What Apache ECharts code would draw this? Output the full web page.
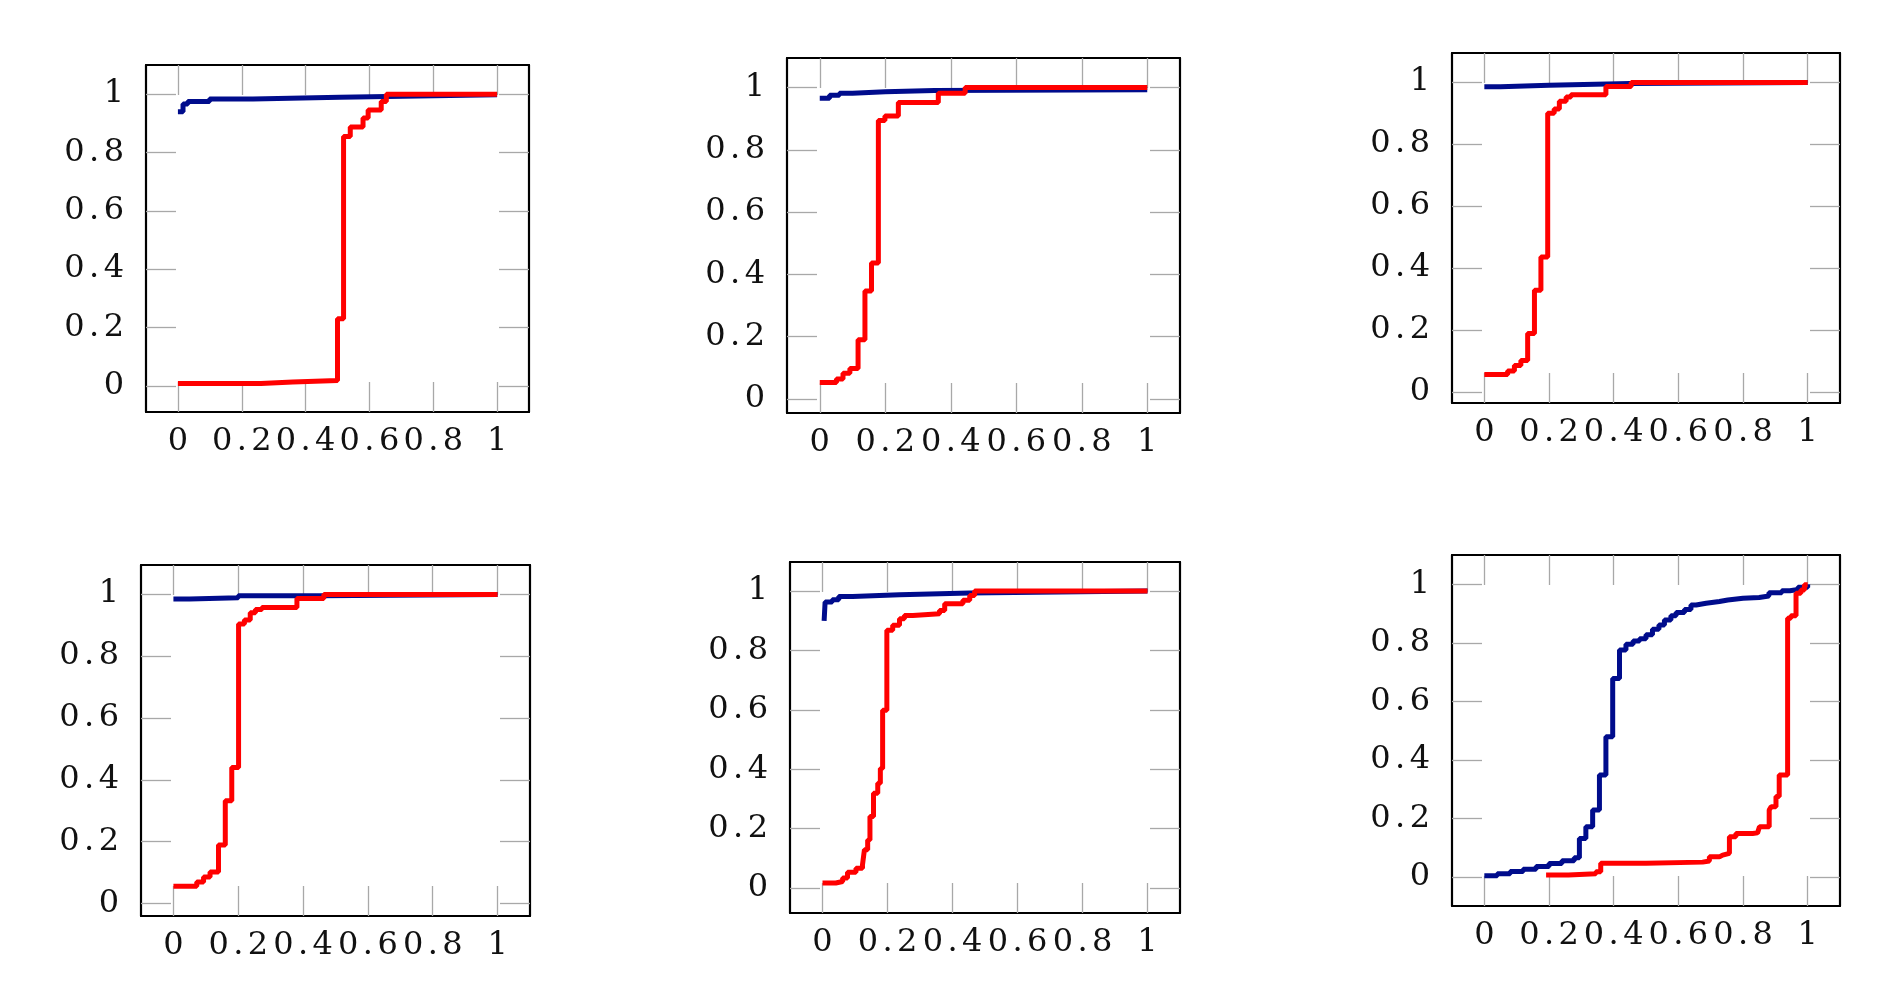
<!DOCTYPE html>
<html>
<head>
<meta charset="utf-8">
<script src="https://cdn.jsdelivr.net/npm/echarts@6/dist/echarts.min.js"></script>
<style>
html,body{margin:0;padding:0;background:#fff;}
#chart{width:1904px;height:1000px;}
</style>
</head>
<body>
<div id="chart"></div>
<script>
// ---- data (x, cumulative fraction) ----
const tickValues = [0, 0.2, 0.4, 0.6, 0.8, 1];

const p1Blue = [[0,0.94],[0.016,0.966],[0.031,0.975],[0.099,0.983],[0.235,0.989],[0.507,0.993],[0.705,0.998],[1,1]];
const p1Red  = [[0,0.008],[0.26,0.013],[0.36,0.018],[0.5,0.23],[0.519,0.855],[0.54,0.887],[0.58,0.918],[0.596,0.946],[0.637,0.975],[0.653,1.0],[1,1]];

const p2Blue = [[0,0.966],[0.03,0.975],[0.06,0.982],[0.1,0.987],[0.2,0.991],[0.35,0.993],[1,0.994]];
const p2Red  = [[0,0.053],[0.051,0.064],[0.071,0.083],[0.092,0.098],[0.117,0.19],[0.138,0.347],[0.158,0.437],[0.179,0.894],[0.199,0.909],[0.24,0.952],[0.362,0.982],[0.444,1.0],[1,1]];

const p3Blue = [[0,0.985],[0.05,0.99],[0.2,0.996],[0.45,0.999],[1,1]];
const p3Red  = [[0,0.057],[0.072,0.068],[0.093,0.086],[0.113,0.102],[0.134,0.189],[0.155,0.329],[0.175,0.436],[0.196,0.9],[0.216,0.913],[0.232,0.938],[0.253,0.952],[0.268,0.959],[0.376,0.986],[0.454,0.999],[1,1]];

const p4Blue = [[0,0.984],[0.05,0.988],[0.2,0.995],[0.45,0.999],[1,1]];
const p4Red  = [[0,0.056],[0.072,0.07],[0.093,0.086],[0.113,0.102],[0.139,0.189],[0.16,0.332],[0.18,0.44],[0.201,0.903],[0.219,0.916],[0.237,0.94],[0.253,0.95],[0.273,0.957],[0.381,0.986],[0.464,0.999],[1,1]];

const p5Blue = [[0.005,0.9],[0.008,0.963],[0.03,0.971],[0.05,0.982],[0.093,0.988],[0.237,0.994],[0.453,1.0],[1,1]];
const p5Red  = [[0,0.017],[0.041,0.022],[0.062,0.034],[0.077,0.053],[0.103,0.067],[0.123,0.078],[0.129,0.129],[0.139,0.162],[0.146,0.241],[0.157,0.319],[0.17,0.353],[0.178,0.403],[0.185,0.599],[0.198,0.868],[0.216,0.885],[0.237,0.907],[0.252,0.918],[0.278,0.924],[0.36,0.935],[0.376,0.957],[0.432,0.969],[0.453,0.985],[0.468,1.0],[1,1]];

const p6Blue = [[0,0.003],[0.04,0.01],[0.08,0.018],[0.12,0.026],[0.16,0.035],[0.2,0.045],[0.24,0.055],[0.278,0.065],[0.294,0.131],[0.314,0.171],[0.335,0.228],[0.356,0.348],[0.376,0.479],[0.397,0.678],[0.418,0.775],[0.438,0.795],[0.46,0.806],[0.48,0.814],[0.5,0.827],[0.52,0.846],[0.54,0.861],[0.557,0.878],[0.577,0.892],[0.593,0.903],[0.619,0.914],[0.639,0.929],[0.655,0.935],[0.686,0.941],[0.727,0.946],[0.753,0.952],[0.8,0.955],[0.85,0.96],[0.88,0.971],[0.92,0.978],[0.945,0.982],[0.97,0.99],[1,1]];
const p6Red  = [[0.191,0.006],[0.26,0.01],[0.345,0.017],[0.36,0.046],[0.5,0.05],[0.675,0.054],[0.696,0.068],[0.727,0.074],[0.737,0.08],[0.758,0.137],[0.778,0.148],[0.83,0.15],[0.845,0.154],[0.851,0.171],[0.881,0.228],[0.887,0.239],[0.902,0.274],[0.912,0.348],[0.938,0.884],[0.948,0.892],[0.964,0.969],[0.979,0.98],[0.99,0.998],[1,1]];

const blueSeries = [p1Blue, p2Blue, p3Blue, p4Blue, p5Blue, p6Blue];
const redSeries  = [p1Red, p2Red, p3Red, p4Red, p5Red, p6Red];

// axis limits (pgfplots-style enlarged limits)
const xMin = -0.1, xMax = 1.1;
const yMins = [-0.09, -0.045, -0.035, -0.04, -0.084, -0.1];
const yMaxs = [1.1, 1.095, 1.094, 1.094, 1.098, 1.1];

// ---- layout ----
const layouts = [
  {left:146, top:65, width:383, height:347},
  {left:787, top:58, width:393, height:355},
  {left:1452, top:53, width:388, height:350},
  {left:141, top:565, width:389, height:351},
  {left:790, top:562, width:390, height:351},
  {left:1452, top:555, width:388, height:351}
];

const BLUE = '#000c8c';
const RED = '#ff0000';
const FONT = 'DejaVu Serif';
const FS = 32;
const tickStyle = {show:true, inside:true, length:30, lineStyle:{color:'#a8a8a8', width:1.3}, customValues: tickValues};
const lineStyle = {show:true, onZero:false, lineStyle:{color:'#000', width:2.2}};
const fmtNum = v => (Math.abs(v) < 1e-9 ? '0' : (Math.round(v*10)/10).toString());
// math-style spacing around the decimal point
const fmt = v => {
  const s = fmtNum(v);
  const k = s.indexOf('.');
  if (k < 0) return '{n|' + s + '}';
  return '{n|' + s.slice(0, k) + '}{d|.}{n|' + s.slice(k + 1) + '}';
};
const rich = {
  n: {fontFamily:FONT, fontSize:FS, color:'#111'},
  d: {fontFamily:FONT, fontSize:FS, color:'#111', width:19, align:'center'}
};

const grids = [], xAxes = [], yAxes = [], series = [];
layouts.forEach((L, i) => {
  grids.push(Object.assign({containLabel:false, outerBoundsMode:'none'}, L));
  xAxes.push({type:'value', gridIndex:i, position:'bottom', min:xMin, max:xMax,
    axisLine:lineStyle, axisTick:tickStyle, splitLine:{show:false},
    axisLabel:{show:true, customValues:tickValues, formatter:fmt, margin:14, rich:rich,
      fontFamily:FONT, fontSize:FS, color:'#111'}});
  xAxes.push({type:'value', gridIndex:i, position:'top', min:xMin, max:xMax,
    axisLine:lineStyle, axisTick:tickStyle, splitLine:{show:false}, axisLabel:{show:false}});
  yAxes.push({type:'value', gridIndex:i, position:'left', min:yMins[i], max:yMaxs[i],
    axisLine:lineStyle, axisTick:tickStyle, splitLine:{show:false},
    axisLabel:{show:true, customValues:tickValues, formatter:fmt, margin:22, rich:rich,
      fontFamily:FONT, fontSize:FS, color:'#111'}});
  yAxes.push({type:'value', gridIndex:i, position:'right', min:yMins[i], max:yMaxs[i],
    axisLine:lineStyle, axisTick:tickStyle, splitLine:{show:false}, axisLabel:{show:false}});

  series.push({type:'line', xAxisIndex:2*i, yAxisIndex:2*i, data:blueSeries[i], step:'end',
    showSymbol:false, symbol:'none', lineStyle:{color:BLUE, width:5}, itemStyle:{color:BLUE}, z:2, animation:false});
  series.push({type:'line', xAxisIndex:2*i, yAxisIndex:2*i, data:redSeries[i], step:'end',
    showSymbol:false, symbol:'none', lineStyle:{color:RED, width:5}, itemStyle:{color:RED}, z:3, animation:false});
});

const chart = echarts.init(document.getElementById('chart'), null, {renderer:'canvas'});
chart.setOption({
  animation:false,
  backgroundColor:'#fff',
  grid: grids,
  xAxis: xAxes,
  yAxis: yAxes,
  series: series
});
</script>
</body>
</html>
